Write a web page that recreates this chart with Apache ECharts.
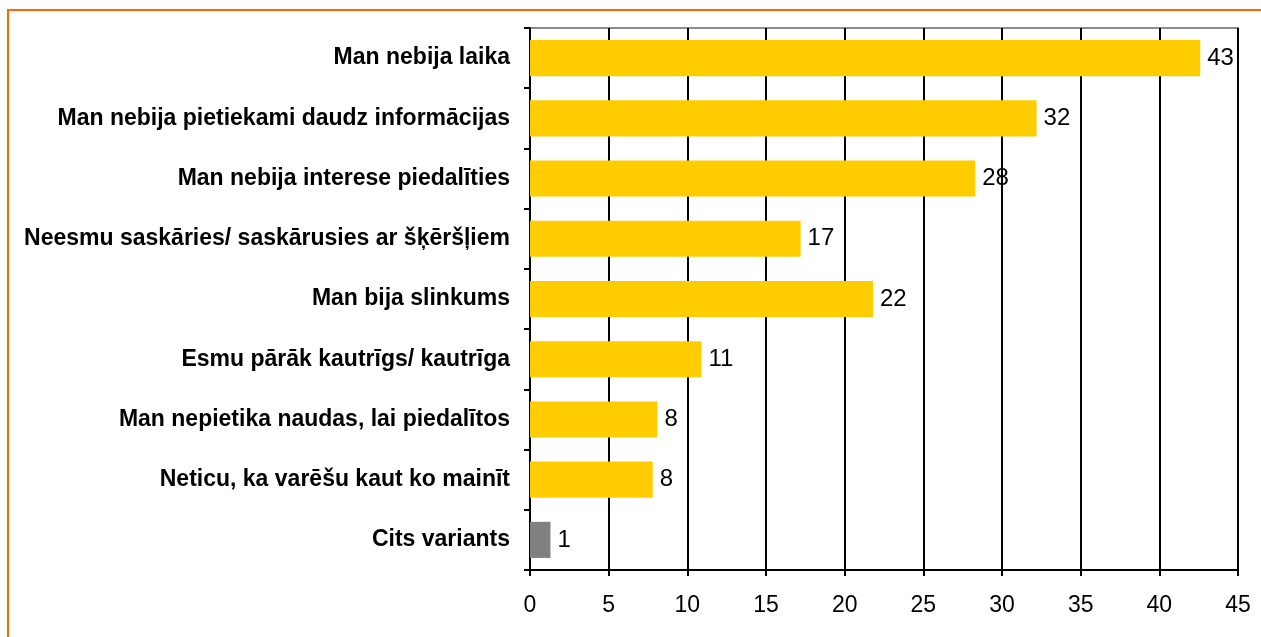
<!DOCTYPE html>
<html>
<head>
<meta charset="utf-8">
<script src="https://cdn.jsdelivr.net/npm/echarts@6/dist/echarts.min.js"></script>
<style>
    html, body { margin: 0; padding: 0; background: #fff; }
    #chart { width: 1261px; height: 637px; }
    .frame { position: absolute; left: 7px; top: 9px; width: 1270px; height: 640px; border: 2px solid #ff6600; box-sizing: border-box; pointer-events: none; }
</style>
</head>
<body>
<div id="chart"></div>
<div class="frame"></div>
<script>
// categories top to bottom
const categories = [
    'Man nebija laika',
    'Man nebija pietiekami daudz informācijas',
    'Man nebija interese piedalīties',
    'Neesmu saskāries/ saskārusies ar šķēršļiem',
    'Man bija slinkums',
    'Esmu pārāk kautrīgs/ kautrīga',
    'Man nepietika naudas, lai piedalītos',
    'Neticu, ka varēšu kaut ko mainīt',
    'Cits variants'
];
const values = [42.6, 32.2, 28.3, 17.2, 21.8, 10.9, 8.1, 7.8, 1.3];
const valueLabels = ['43', '32', '28', '17', '22', '11', '8', '8', '1'];
const barColors = ['#ffcc00', '#ffcc00', '#ffcc00', '#ffcc00', '#ffcc00', '#ffcc00', '#ffcc00', '#ffcc00', '#808080'];

const chart = echarts.init(document.getElementById('chart'));

const option = {
    animation: false,
    grid: {
        left: 530,
        right: 23,
        top: 28,
        bottom: 67,
        show: true,
        borderColor: '#8c8c8c',
        borderWidth: 2
    },
    xAxis: {
        type: 'value',
        min: 0,
        max: 45,
        interval: 5,
        axisLine: { show: true, lineStyle: { color: '#000', width: 2 } },
        axisTick: { show: true, length: 6, lineStyle: { color: '#000', width: 2 } },
        axisLabel: { color: '#000', fontSize: 23, fontFamily: 'Liberation Sans', margin: 24 },
        splitLine: { show: true, lineStyle: { color: '#000', width: 2 } }
    },
    yAxis: {
        type: 'category',
        inverse: true,
        data: categories,
        axisLine: { show: true, lineStyle: { color: '#000', width: 2 } },
        axisTick: { show: true, length: 6, lineStyle: { color: '#000', width: 2 } },
        axisLabel: { color: '#000', fontSize: 23, fontWeight: 'bold', fontFamily: 'Liberation Sans', margin: 20 }
    },
    series: [
        {
            type: 'bar',
            barCategoryGap: '40%',
            data: values.map((v, i) => ({ value: v, itemStyle: { color: barColors[i] } })),
            label: {
                show: true,
                position: 'right',
                distance: 7,
                color: '#000',
                fontSize: 24,
                fontFamily: 'Liberation Sans',
                formatter: p => valueLabels[p.dataIndex]
            }
        }
    ]
};

chart.setOption(option);
</script>
</body>
</html>
